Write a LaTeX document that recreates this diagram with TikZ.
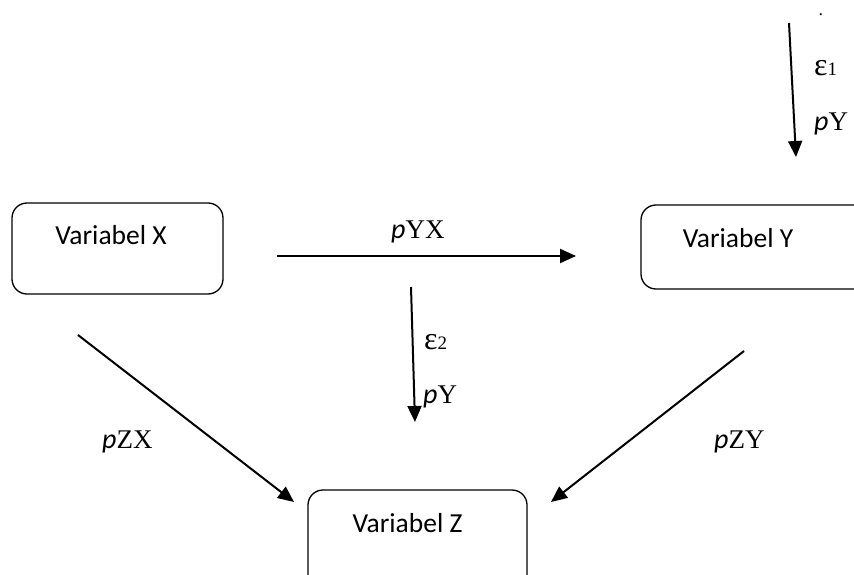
\documentclass[tikz,border=0pt]{standalone}
\usepackage{fontspec}
\setmainfont{Liberation Serif}
\newfontfamily\boxfont{Carlito}
\usetikzlibrary{arrows.meta}
\tikzset{
  varbox/.style={draw=black, line width=1.3pt, rounded corners=15pt, inner sep=0pt},
  vartext/.style={font=\boxfont\fontsize{27.5}{30}\selectfont, inner sep=0pt},
  lbl/.style={font=\fontsize{27}{30}\selectfont, inner sep=0pt, anchor=base west},
  conn/.style={line width=2pt, -{Triangle[length=16pt,width=14pt]}}
}
\newcommand{\pp}{{\boxfont\itshape\fontsize{28}{30}\selectfont p}}
\newcommand{\epsn}[1]{{\fontsize{32}{34}\selectfont ε}{\fontsize{19}{20}\selectfont #1}}
\begin{document}
\begin{tikzpicture}[x=1pt,y=-1pt]
\clip (0,0) rectangle (854,575);
\fill[white] (0,0) rectangle (854,575);
% boxes
\node[varbox, minimum width=211pt, minimum height=91pt] (X) at (117.5,248.5) {};
\node[vartext] (Xt) at (111,235) {Variabel X};
\node[varbox, minimum width=260pt, minimum height=84pt] (Y) at (771,247) {};
\node[vartext] (Yt) at (738,238) {Variabel Y};
\node[varbox, minimum width=219pt, minimum height=120pt] (Z) at (417.5,550) {};
\node[vartext] (Zt) at (407.5,523) {Variabel Z};
% arrow end points
\coordinate (a1) at (789,23);  \coordinate (a2) at (796,157);
\coordinate (h1) at (277,256); \coordinate (h2) at (576,256);
\coordinate (m1) at (411,287); \coordinate (m2) at (415,422);
\coordinate (xz1) at (78,335); \coordinate (xz2) at (294,502);
\coordinate (yz1) at (744,351); \coordinate (yz2) at (551,502);
\draw[conn] (a1) -- (a2);
\draw[conn] (h1) -- (h2);
\draw[conn] (m1) -- (m2);
\draw[conn] (xz1) -- (xz2);
\draw[conn] (yz1) -- (yz2);
% labels
\node[lbl, font=\fontsize{18}{20}\selectfont] (dot) at (818.5,16) {.};
\node[lbl] (e1) at (814,76) {\epsn{1}};
\node[lbl] (pY1) at (814,131) {\pp Y};
\node[lbl] (pYX) at (391,238) {\pp YX};
\node[lbl] (e2) at (424,349) {\epsn{2}};
\node[lbl] (pY2) at (423,403) {\pp Y};
\node[lbl] (pZX) at (102,448) {\pp ZX};
\node[lbl] (pZY) at (714,448) {\pp ZY};
\end{tikzpicture}
\end{document}
